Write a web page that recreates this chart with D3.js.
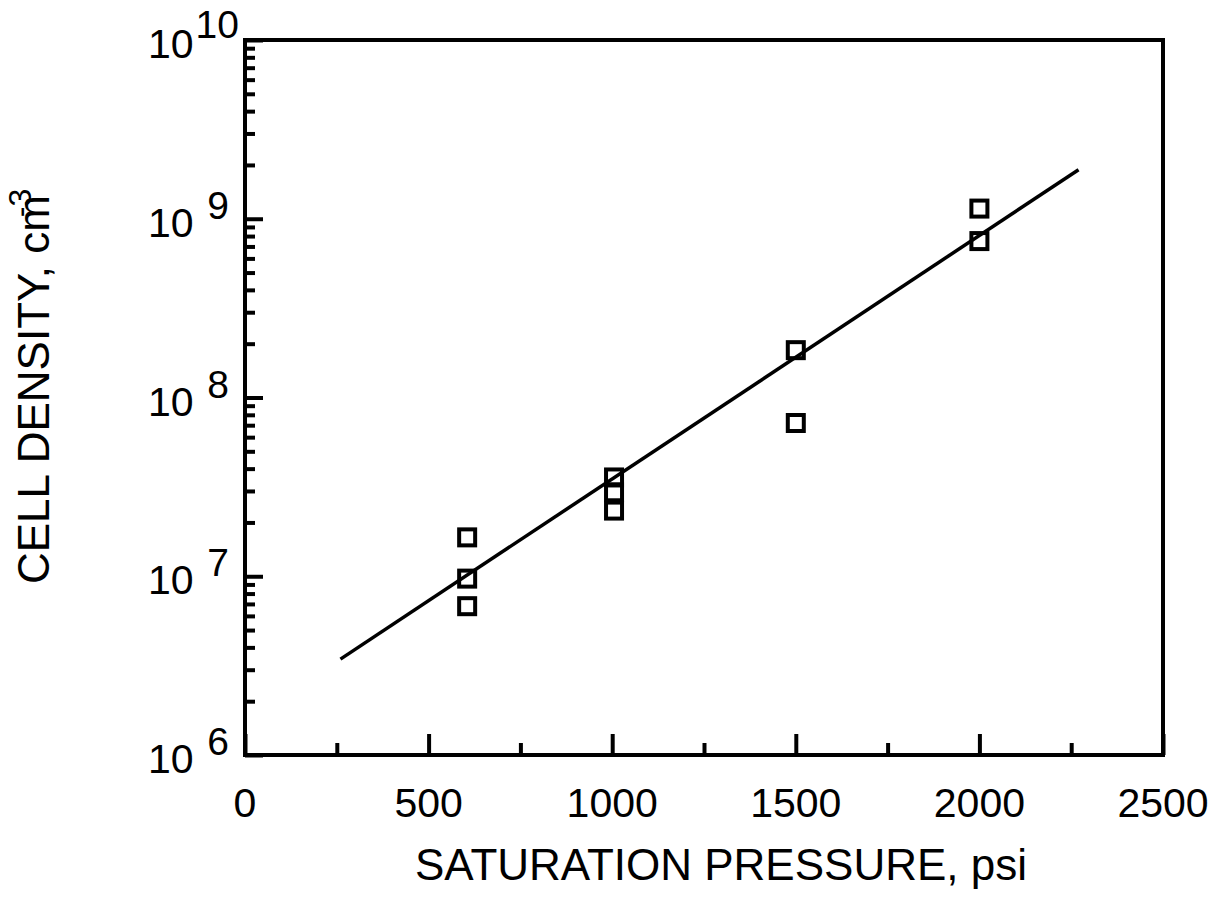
<!DOCTYPE html>
<html>
<head>
<meta charset="utf-8">
<script src="https://cdn.jsdelivr.net/npm/d3@7"></script>
<style>
body { margin: 0; background: #fff; }
text { font-family: Arial, "Liberation Sans", sans-serif; fill: #000; }
</style>
</head>
<body>
<svg class="chart"></svg>
<script>
// measured points (pressure in psi, cell density per cm^3)
var pressure = [605, 605, 605, 1005, 1005, 1005, 1500, 1500, 2000, 2000];
var density = [1.65e7, 9.7e6, 6.8e6, 3.57e7, 2.95e7, 2.33e7, 1.84e8, 7.2e7, 1.14e9, 7.5e8];

// fitted line end points
var fitX = [260, 2270];
var fitY = [3.44e6, 1.88e9];

var xTicks = [0, 500, 1000, 1500, 2000, 2500];
var xMinor = [250, 750, 1250, 1750, 2250];
var yExp = [6, 7, 8, 9, 10];

var margin = {top: 40, right: 45, bottom: 156, left: 245};
var width = 918;
var height = 715;

var svg = d3.select(".chart")
    .attr("width", 1208)
    .attr("height", 911);

var chart = svg.append("g")
    .attr("transform", "translate(" + margin.left + "," + margin.top + ")");

var x = d3.scaleLinear().domain([0, 2500]).range([0, width]);
var y = d3.scaleLog().domain([1e6, 1e10]).range([height, 0]);

// minor decade ticks 2..9
var yMinor = [];
yExp.slice(0, 4).forEach(function(e){
    for (var k = 2; k <= 9; k++) yMinor.push(k * Math.pow(10, e));
});

// x ticks (inward)
chart.append("g")
    .attr("transform", "translate(0," + height + ")")
    .call(d3.axisBottom(x).tickValues(xTicks).tickSizeInner(-21).tickSizeOuter(0).tickFormat(""))
    .call(function(g){ g.select(".domain").remove(); })
    .selectAll("line").attr("stroke", "#000").attr("stroke-width", 4);

chart.append("g")
    .attr("transform", "translate(0," + height + ")")
    .call(d3.axisBottom(x).tickValues(xMinor).tickSizeInner(-12).tickSizeOuter(0).tickFormat(""))
    .call(function(g){ g.select(".domain").remove(); })
    .selectAll("line").attr("stroke", "#000").attr("stroke-width", 4);

chart.selectAll(".xlab")
    .data(xTicks)
    .enter().append("text")
    .attr("class", "xlab")
    .attr("x", function(d){ return x(d); })
    .attr("y", height + 62)
    .attr("text-anchor", "middle")
    .style("font-size", "41px")
    .text(function(d){ return d; });

// y ticks (inward)
chart.append("g")
    .call(d3.axisLeft(y).tickValues(yExp.map(function(e){ return Math.pow(10, e); })).tickSizeInner(-18).tickSizeOuter(0).tickFormat(""))
    .call(function(g){ g.select(".domain").remove(); })
    .selectAll("line").attr("stroke", "#000").attr("stroke-width", 4);

chart.append("g")
    .call(d3.axisLeft(y).tickValues(yMinor).tickSizeInner(-10).tickSizeOuter(0).tickFormat(""))
    .call(function(g){ g.select(".domain").remove(); })
    .selectAll("line").attr("stroke", "#000").attr("stroke-width", 4);

var ylab = chart.selectAll(".ylab")
    .data(yExp)
    .enter().append("g")
    .attr("class", "ylab")
    .attr("transform", function(d){ return "translate(0," + y(Math.pow(10, d)) + ")"; });

ylab.append("text")
    .attr("x", -97)
    .attr("y", 18)
    .style("font-size", "41px")
    .text("10");

ylab.append("text")
    .attr("x", function(d){ return d === 10 ? -6 : -16; })
    .attr("y", function(d){ return d === 10 ? -2 : 0; })
    .attr("text-anchor", "end")
    .style("font-size", "39px")
    .text(function(d){ return d; });

// frame
chart.append("rect")
    .attr("x", 0)
    .attr("y", 0)
    .attr("width", width)
    .attr("height", height)
    .attr("fill", "none")
    .attr("stroke", "#000")
    .attr("stroke-width", 4);

// fit line
chart.append("line")
    .attr("x1", x(fitX[0]))
    .attr("y1", y(fitY[0]))
    .attr("x2", x(fitX[1]))
    .attr("y2", y(fitY[1]))
    .attr("stroke", "#000")
    .attr("stroke-width", 3.5);

// data squares
chart.selectAll(".pt")
    .data(pressure)
    .enter().append("rect")
    .attr("class", "pt")
    .attr("x", function(d){ return x(d) - 8; })
    .attr("y", function(d, i){ return y(density[i]) - 8; })
    .attr("width", 16)
    .attr("height", 16)
    .attr("fill", "none")
    .attr("stroke", "#000")
    .attr("stroke-width", 4);

// axis titles
svg.append("text")
    .attr("x", 721)
    .attr("y", 880)
    .attr("text-anchor", "middle")
    .style("font-size", "44px")
    .text("SATURATION PRESSURE, psi");

var yt = svg.append("text")
    .attr("transform", "translate(49,584) rotate(-90)")
    .style("font-size", "44px")
    .text("CELL DENSITY, cm");
yt.append("tspan")
    .attr("dx", -22)
    .attr("dy", -18)
    .style("font-size", "32px")
    .text("-3");
</script>
</body>
</html>
